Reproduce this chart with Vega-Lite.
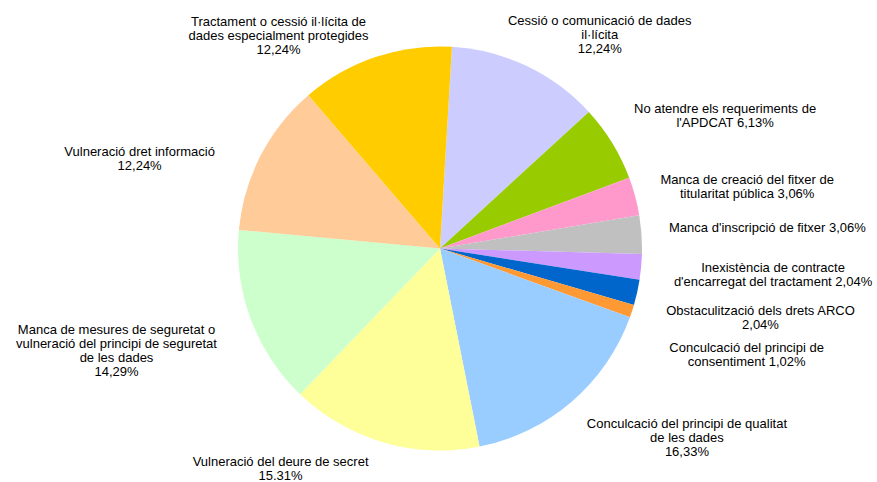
{
  "$schema": "https://vega.github.io/schema/vega-lite/v6.json",
  "autosize": "none",
  "width": 874,
  "height": 467,
  "padding": {"left": 3, "right": 0, "top": 15, "bottom": 0},
  "background": "#ffffff",
  "config": {"view": {"stroke": null}},
  "data": {
    "values": [
      {"i": 1, "cat": "Cessió o comunicació de dades il·lícita", "v": 12.24, "label": "Cessió o comunicació de dades\nil·lícita\n12,24%"},
      {"i": 2, "cat": "No atendre els requeriments de l'APDCAT", "v": 6.13, "label": "No atendre els requeriments de\nl'APDCAT 6,13%"},
      {"i": 3, "cat": "Manca de creació del fitxer de titularitat pública", "v": 3.06, "label": "Manca de creació del fitxer de\ntitularitat pública 3,06%"},
      {"i": 4, "cat": "Manca d'inscripció de fitxer", "v": 3.06, "label": "Manca d'inscripció de fitxer 3,06%"},
      {"i": 5, "cat": "Inexistència de contracte d'encarregat del tractament", "v": 2.04, "label": "Inexistència de contracte\nd'encarregat del tractament 2,04%"},
      {"i": 6, "cat": "Obstaculització dels drets ARCO", "v": 2.04, "label": "Obstaculització dels drets ARCO\n2,04%"},
      {"i": 7, "cat": "Conculcació del principi de consentiment", "v": 1.02, "label": "Conculcació del principi de\nconsentiment 1,02%"},
      {"i": 8, "cat": "Conculcació del principi de qualitat de les dades", "v": 16.33, "label": "Conculcació del principi de qualitat\nde les dades\n16,33%"},
      {"i": 9, "cat": "Vulneració del deure de secret", "v": 15.31, "label": "Vulneració del deure de secret\n15.31%"},
      {"i": 10, "cat": "Manca de mesures de seguretat o vulneració del principi de seguretat de les dades", "v": 14.29, "label": "Manca de mesures de seguretat o\nvulneració del principi de seguretat\nde les dades\n14,29%"},
      {"i": 11, "cat": "Vulneració dret informació", "v": 12.24, "label": "Vulneració dret informació\n12,24%"},
      {"i": 12, "cat": "Tractament o cessió il·lícita de dades especialment protegides", "v": 12.24, "label": "Tractament o cessió il·lícita de\ndades especialment protegides\n12,24%"}
    ]
  },
  "encoding": {
    "theta": {"field": "v", "type": "quantitative", "stack": true, "scale": {"range": [0.0593, 6.3425]}},
    "order": {"field": "i", "type": "quantitative"}
  },
  "layer": [
    {
      "mark": {"type": "arc", "outerRadius": 202, "stroke": null},
      "encoding": {
        "color": {
          "field": "cat", "type": "nominal", "legend": null, "sort": null,
          "scale": {
            "domain": [
              "Cessió o comunicació de dades il·lícita",
              "No atendre els requeriments de l'APDCAT",
              "Manca de creació del fitxer de titularitat pública",
              "Manca d'inscripció de fitxer",
              "Inexistència de contracte d'encarregat del tractament",
              "Obstaculització dels drets ARCO",
              "Conculcació del principi de consentiment",
              "Conculcació del principi de qualitat de les dades",
              "Vulneració del deure de secret",
              "Manca de mesures de seguretat o vulneració del principi de seguretat de les dades",
              "Vulneració dret informació",
              "Tractament o cessió il·lícita de dades especialment protegides"
            ],
            "range": ["#CCCCFF", "#99CC00", "#FF99CC", "#C0C0C0", "#CC99FF", "#0066CC", "#FF9933", "#99CCFF", "#FFFF99", "#CCFFCC", "#FFCC99", "#FFCC00"]
          }
        }
      }
    },
    {"mark": {"type": "text", "radius": 230, "align": "center", "baseline": "middle", "lineBreak": "\n", "lineHeight": 14, "font": "Liberation Sans", "fontSize": 13, "color": "#000000", "dx": 61, "dy": -20},
     "encoding": {"detail": {"field": "cat"}, "text": {"condition": {"test": "datum.i == 1", "field": "label"}, "value": ""}}},
    {"mark": {"type": "text", "radius": 230, "align": "center", "baseline": "middle", "lineBreak": "\n", "lineHeight": 14, "font": "Liberation Sans", "fontSize": 13, "color": "#000000", "dx": 89, "dy": -19},
     "encoding": {"detail": {"field": "cat"}, "text": {"condition": {"test": "datum.i == 2", "field": "label"}, "value": ""}}},
    {"mark": {"type": "text", "radius": 230, "align": "center", "baseline": "middle", "lineBreak": "\n", "lineHeight": 14, "font": "Liberation Sans", "fontSize": 13, "color": "#000000", "dx": 85, "dy": -9},
     "encoding": {"detail": {"field": "cat"}, "text": {"condition": {"test": "datum.i == 3", "field": "label"}, "value": ""}}},
    {"mark": {"type": "text", "radius": 230, "align": "center", "baseline": "middle", "lineBreak": "\n", "lineHeight": 14, "font": "Liberation Sans", "fontSize": 13, "color": "#000000", "dx": 98, "dy": -5},
     "encoding": {"detail": {"field": "cat"}, "text": {"condition": {"test": "datum.i == 4", "field": "label"}, "value": ""}}},
    {"mark": {"type": "text", "radius": 230, "align": "center", "baseline": "middle", "lineBreak": "\n", "lineHeight": 14, "font": "Liberation Sans", "fontSize": 13, "color": "#000000", "dx": 104, "dy": -1},
     "encoding": {"detail": {"field": "cat"}, "text": {"condition": {"test": "datum.i == 5", "field": "label"}, "value": ""}}},
    {"mark": {"type": "text", "radius": 230, "align": "center", "baseline": "middle", "lineBreak": "\n", "lineHeight": 14, "font": "Liberation Sans", "fontSize": 13, "color": "#000000", "dx": 96, "dy": 12},
     "encoding": {"detail": {"field": "cat"}, "text": {"condition": {"test": "datum.i == 6", "field": "label"}, "value": ""}}},
    {"mark": {"type": "text", "radius": 230, "align": "center", "baseline": "middle", "lineBreak": "\n", "lineHeight": 14, "font": "Liberation Sans", "fontSize": 13, "color": "#000000", "dx": 88, "dy": 28},
     "encoding": {"detail": {"field": "cat"}, "text": {"condition": {"test": "datum.i == 7", "field": "label"}, "value": ""}}},
    {"mark": {"type": "text", "radius": 230, "align": "center", "baseline": "middle", "lineBreak": "\n", "lineHeight": 14, "font": "Liberation Sans", "fontSize": 13, "color": "#000000", "dx": 97, "dy": 1},
     "encoding": {"detail": {"field": "cat"}, "text": {"condition": {"test": "datum.i == 8", "field": "label"}, "value": ""}}},
    {"mark": {"type": "text", "radius": 230, "align": "center", "baseline": "middle", "lineBreak": "\n", "lineHeight": 14, "font": "Liberation Sans", "fontSize": 13, "color": "#000000", "dx": -95, "dy": -7},
     "encoding": {"detail": {"field": "cat"}, "text": {"condition": {"test": "datum.i == 9", "field": "label"}, "value": ""}}},
    {"mark": {"type": "text", "radius": 230, "align": "center", "baseline": "middle", "lineBreak": "\n", "lineHeight": 14, "font": "Liberation Sans", "fontSize": 13, "color": "#000000", "dx": -108, "dy": 1},
     "encoding": {"detail": {"field": "cat"}, "text": {"condition": {"test": "datum.i == 10", "field": "label"}, "value": ""}}},
    {"mark": {"type": "text", "radius": 230, "align": "center", "baseline": "middle", "lineBreak": "\n", "lineHeight": 14, "font": "Liberation Sans", "fontSize": 13, "color": "#000000", "dx": -96, "dy": 9},
     "encoding": {"detail": {"field": "cat"}, "text": {"condition": {"test": "datum.i == 11", "field": "label"}, "value": ""}}},
    {"mark": {"type": "text", "radius": 230, "align": "center", "baseline": "middle", "lineBreak": "\n", "lineHeight": 14, "font": "Liberation Sans", "fontSize": 13, "color": "#000000", "dx": -88, "dy": -9},
     "encoding": {"detail": {"field": "cat"}, "text": {"condition": {"test": "datum.i == 12", "field": "label"}, "value": ""}}}
  ]
}
